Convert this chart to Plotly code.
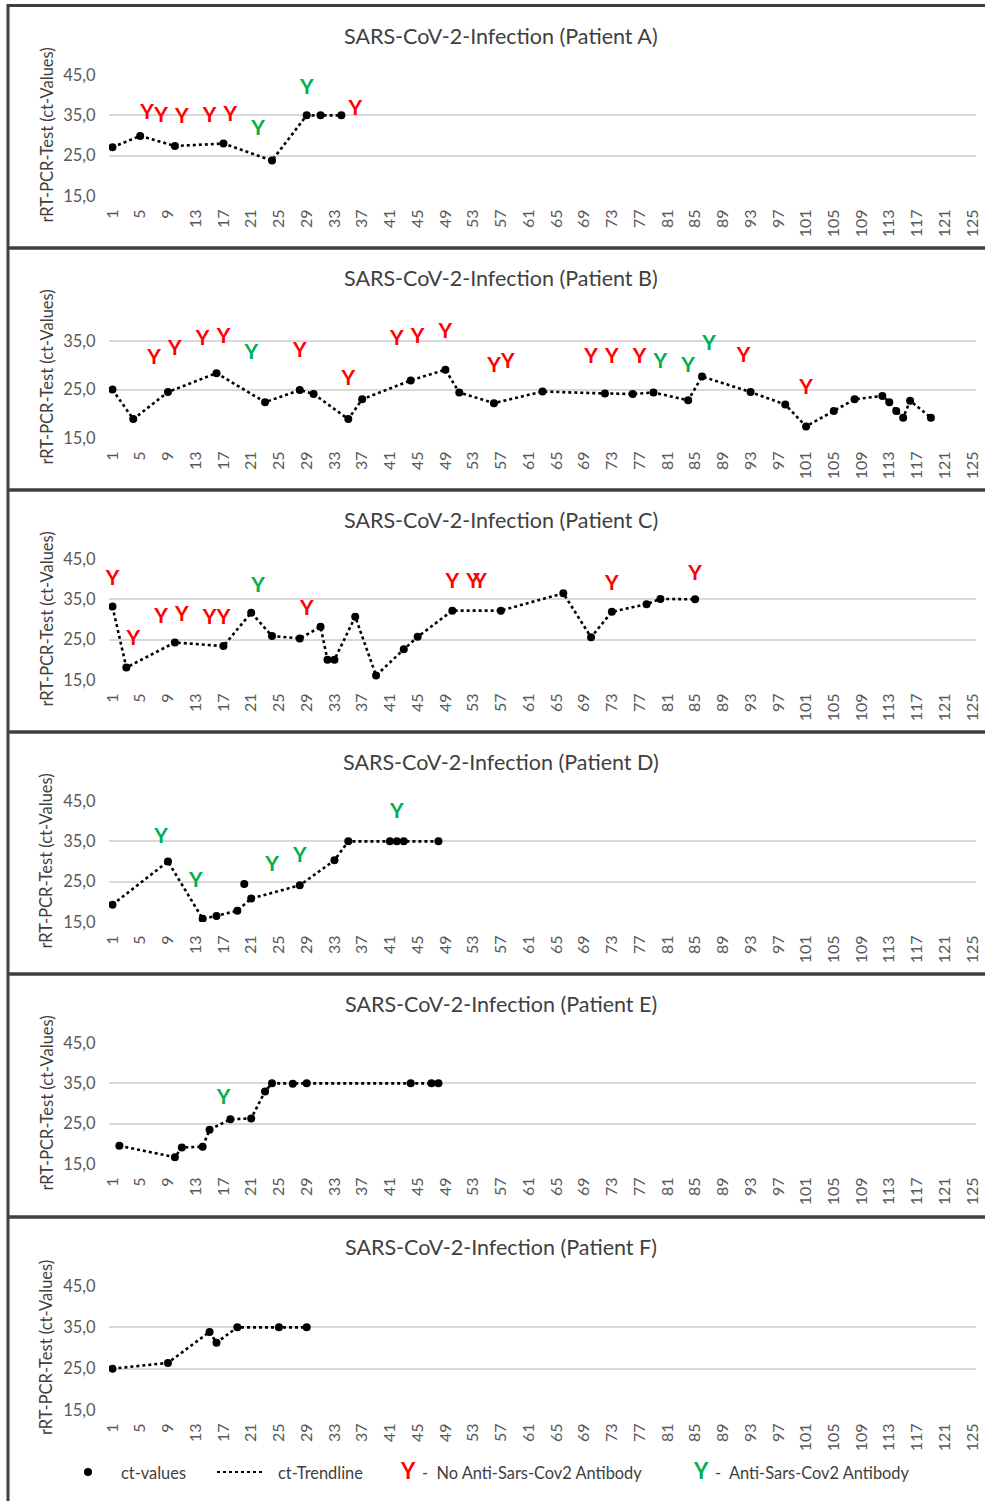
import plotly.graph_objects as go

# ---------------- data ----------------
categories = list(range(1, 126))
tick_labels = [str(v) for v in range(1, 126, 4)]

A_x = [1, 5, 10, 17, 24, 29, 31, 34]
A_y = [27.1, 29.9, 27.4, 28.0, 23.8, 35.0, 35.0, 35.0]
A_red_x = [6, 8, 11, 15, 18, 36]
A_red_y = [35.5, 34.7, 34.3, 34.7, 35.0, 36.5]
A_green_x = [22, 29]
A_green_y = [31.4, 41.5]

B_x = [1, 4, 9, 16, 23, 28, 30, 35, 37, 44, 49, 51, 56, 63, 72, 76, 79, 84, 86, 93,
       98, 101, 105, 108, 112, 113, 114, 115, 116, 119]
B_y = [25.0, 18.9, 24.5, 28.4, 22.4, 24.9, 24.1, 18.9, 23.0, 26.9, 29.1, 24.4, 22.2, 24.6,
       24.2, 24.1, 24.4, 22.8, 27.7, 24.5, 21.9, 17.4, 20.6, 23.0, 23.7, 22.4, 20.6, 19.2,
       22.7, 19.2]
B_red_x = [7, 10, 14, 17, 28, 35, 42, 45, 49, 56, 58, 70, 73, 77, 92, 101]
B_red_y = [31.3, 33.3, 35.3, 35.7, 32.9, 27.0, 35.3, 35.7, 36.7, 29.8, 30.6, 31.5, 31.5,
           31.5, 31.7, 25.1]
B_green_x = [21, 80, 84, 87]
B_green_y = [32.4, 30.6, 29.8, 34.3]

C_x = [1, 3, 10, 17, 21, 24, 28, 31, 32, 33, 36, 39, 43, 45, 50, 57, 66, 70, 73, 78, 80, 85]
C_y = [33.2, 18.1, 24.3, 23.4, 31.7, 25.9, 25.3, 28.2, 20.0, 20.0, 30.7, 16.1, 22.6, 25.7,
       32.2, 32.2, 36.5, 25.6, 31.9, 33.8, 35.1, 35.0]
C_red_x = [1, 4, 8, 11, 15, 17, 29, 50, 53, 54, 73, 85]
C_red_y = [39.8, 25.1, 30.5, 30.9, 30.3, 30.3, 32.4, 39.1, 39.1, 39.1, 38.6, 41.0]
C_green_x = [22]
C_green_y = [38.1]

D_x = [1, 9, 14, 16, 19, 20, 21, 28, 33, 35, 41, 42, 43, 48]
D_y = [19.3, 30.0, 15.8, 16.5, 17.8, 24.4, 20.8, 24.1, 30.3, 35.0, 35.0, 35.0, 35.0, 35.0]
D_off_trend = [20]
D_red_x, D_red_y = [], []
D_green_x = [8, 13, 24, 28, 42]
D_green_y = [35.8, 25.0, 28.9, 31.1, 42.1]

E_x = [2, 10, 11, 14, 15, 18, 21, 23, 24, 27, 29, 44, 47, 48]
E_y = [19.5, 16.7, 19.1, 19.3, 23.5, 26.1, 26.3, 33.0, 35.0, 34.9, 35.0, 35.0, 35.0, 35.0]
E_red_x, E_red_y = [], []
E_green_x = [17]
E_green_y = [31.3]

F_x = [1, 9, 15, 16, 19, 25, 29]
F_y = [25.0, 26.4, 33.9, 31.3, 35.0, 35.0, 35.0]
F_red_x, F_red_y, F_green_x, F_green_y = [], [], [], []

titles = ["SARS-CoV-2-Infection (Patient A)", "SARS-CoV-2-Infection (Patient B)",
          "SARS-CoV-2-Infection (Patient C)", "SARS-CoV-2-Infection (Patient D)",
          "SARS-CoV-2-Infection (Patient E)", "SARS-CoV-2-Infection (Patient F)"]
y_title = "rRT-PCR-Test (ct-Values)"
legend_labels = ["ct-values", "ct-Trendline", "-  No Anti-Sars-Cov2 Antibody",
                 "-  Anti-Sars-Cov2 Antibody"]

panels = [
    dict(x=A_x, y=A_y, rx=A_red_x, ry=A_red_y, gx=A_green_x, gy=A_green_y, off=[],
         top=75, bot=196, rng=[15, 45], ticks=[15, 25, 35, 45]),
    dict(x=B_x, y=B_y, rx=B_red_x, ry=B_red_y, gx=B_green_x, gy=B_green_y, off=[],
         top=317, bot=438, rng=[15, 40], ticks=[15, 25, 35]),
    dict(x=C_x, y=C_y, rx=C_red_x, ry=C_red_y, gx=C_green_x, gy=C_green_y, off=[],
         top=559, bot=680, rng=[15, 45], ticks=[15, 25, 35, 45]),
    dict(x=D_x, y=D_y, rx=D_red_x, ry=D_red_y, gx=D_green_x, gy=D_green_y, off=D_off_trend,
         top=801, bot=922, rng=[15, 45], ticks=[15, 25, 35, 45]),
    dict(x=E_x, y=E_y, rx=E_red_x, ry=E_red_y, gx=E_green_x, gy=E_green_y, off=[],
         top=1043, bot=1164, rng=[15, 45], ticks=[15, 25, 35, 45]),
    dict(x=F_x, y=F_y, rx=F_red_x, ry=F_red_y, gx=F_green_x, gy=F_green_y, off=[],
         top=1286, bot=1410, rng=[15, 45], ticks=[15, 25, 35, 45]),
]
title_py = [36, 278, 520, 762, 1004, 1247]
separators_py = [248, 490, 732, 974, 1217]

# ---------------- figure ----------------
W, H = 985, 1501
FONT = "Lato"
TXT = "#404040"
RED = "#ff0000"
GREEN = "#00b050"


def fx(px):
    return px / W


def fy(py):
    return 1 - py / H


fig = go.Figure()
layout = dict(
    width=W, height=H, margin=dict(l=0, r=0, t=0, b=0, pad=0), autosize=False,
    paper_bgcolor="white", plot_bgcolor="white", showlegend=False,
    separators=",.", font=dict(family=FONT, color=TXT),
)
annotations = []
shapes = []

for i, p in enumerate(panels, start=1):
    xa = "x" if i == 1 else f"x{i}"
    ya = "y" if i == 1 else f"y{i}"
    # trendline
    tx = [a for a in p["x"] if a not in p["off"]]
    ty = [b for a, b in zip(p["x"], p["y"]) if a not in p["off"]]
    fig.add_trace(go.Scatter(x=tx, y=ty, mode="lines", xaxis=xa, yaxis=ya,
                             line=dict(color="black", width=2.6, dash="dot"),
                             hoverinfo="skip"))
    fig.add_trace(go.Scatter(x=p["x"], y=p["y"], mode="markers", xaxis=xa, yaxis=ya,
                             marker=dict(color="black", size=8)))
    for gx, gy, col in ((p["rx"], p["ry"], RED), (p["gx"], p["gy"], GREEN)):
        if gx:
            fig.add_trace(go.Scatter(x=gx, y=gy, mode="text", text=["Y"] * len(gx),
                                     textposition="middle center", xaxis=xa, yaxis=ya,
                                     cliponaxis=False,
                                     textfont=dict(family=FONT, size=21, color=col,
                                                   weight="bold")))
    layout[f"xaxis{i}"] = dict(
        domain=[fx(109), fx(976)], anchor=ya, range=[0.5, 125.5], automargin=False,
        tickmode="array", tickvals=categories[::4], ticktext=tick_labels,
        tickangle=-90, showgrid=False, zeroline=False, showline=False,
        ticks="outside", ticklen=6, tickcolor="rgba(0,0,0,0)",
        tickfont=dict(family=FONT, size=16, color="#595959"),
    )
    layout[f"yaxis{i}"] = dict(
        domain=[fy(p["bot"]), fy(p["top"])], anchor=xa, range=p["rng"], automargin=False,
        tickmode="array", tickvals=p["ticks"], tickformat=".1f",
        showgrid=True, gridcolor="#d9d9d9", gridwidth=1.5, zeroline=False, showline=False,
        ticks="outside", ticklen=9, tickcolor="rgba(0,0,0,0)",
        tickfont=dict(family=FONT, size=16.5, color="#595959"),
    )
    annotations.append(dict(x=fx(501), y=fy(title_py[i - 1]), xref="paper", yref="paper",
                            text=titles[i - 1], showarrow=False, xanchor="center",
                            yanchor="middle",
                            font=dict(family=FONT, size=21.5, color=TXT)))
    ymid = (p["top"] + p["bot"]) / 2
    annotations.append(dict(x=fx(46), y=fy(ymid), xref="paper", yref="paper",
                            text=y_title, showarrow=False, textangle=-90,
                            xanchor="center", yanchor="middle",
                            font=dict(family=FONT, size=16.5, color=TXT)))

# panel borders
BORDER = "#3f3f3f"
shapes.append(dict(type="line", xref="paper", yref="paper", x0=fx(8), x1=fx(8),
                   y0=fy(4), y1=fy(1510), line=dict(color=BORDER, width=3)))
shapes.append(dict(type="line", xref="paper", yref="paper", x0=fx(8), x1=fx(1000),
                   y0=fy(5.5), y1=fy(5.5), line=dict(color=BORDER, width=3)))
for s in separators_py:
    shapes.append(dict(type="line", xref="paper", yref="paper", x0=fx(8), x1=fx(1000),
                       y0=fy(s), y1=fy(s), line=dict(color=BORDER, width=3.5)))

# legend
LY = 1472
shapes.append(dict(type="circle", xref="paper", yref="paper", x0=fx(84), x1=fx(92),
                   y0=fy(LY + 4), y1=fy(LY - 4), fillcolor="black", line=dict(width=0)))
shapes.append(dict(type="line", xref="paper", yref="paper", x0=fx(217), x1=fx(265),
                   y0=fy(LY), y1=fy(LY), line=dict(color="black", width=2, dash="dot")))
for px, txt in ((119, legend_labels[0]), (276, legend_labels[1]),
                (420, legend_labels[2]), (713, legend_labels[3])):
    annotations.append(dict(x=fx(px), y=fy(LY), xref="paper", yref="paper", text=txt,
                            showarrow=False, xanchor="left", yanchor="middle",
                            font=dict(family=FONT, size=16.4, color=TXT)))
for px, col in ((408, RED), (701, GREEN)):
    annotations.append(dict(x=fx(px), y=fy(LY - 2), xref="paper", yref="paper", text="Y",
                            showarrow=False, xanchor="center", yanchor="middle",
                            font=dict(family=FONT, size=22, color=col, weight="bold")))

layout["annotations"] = annotations
layout["shapes"] = shapes
fig.update_layout(**layout)

post = (
    "document.documentElement.style.margin='0';"
    "document.documentElement.style.overflow='hidden';"
    "document.body.style.margin='0';document.body.style.overflow='hidden';"
    "var gd=document.getElementById('{plot_id}');"
    "gd.style.position='fixed';gd.style.left='0px';gd.style.top='0px';"
)
fig.write_html("out.html", config={"displayModeBar": False}, post_script=post)
